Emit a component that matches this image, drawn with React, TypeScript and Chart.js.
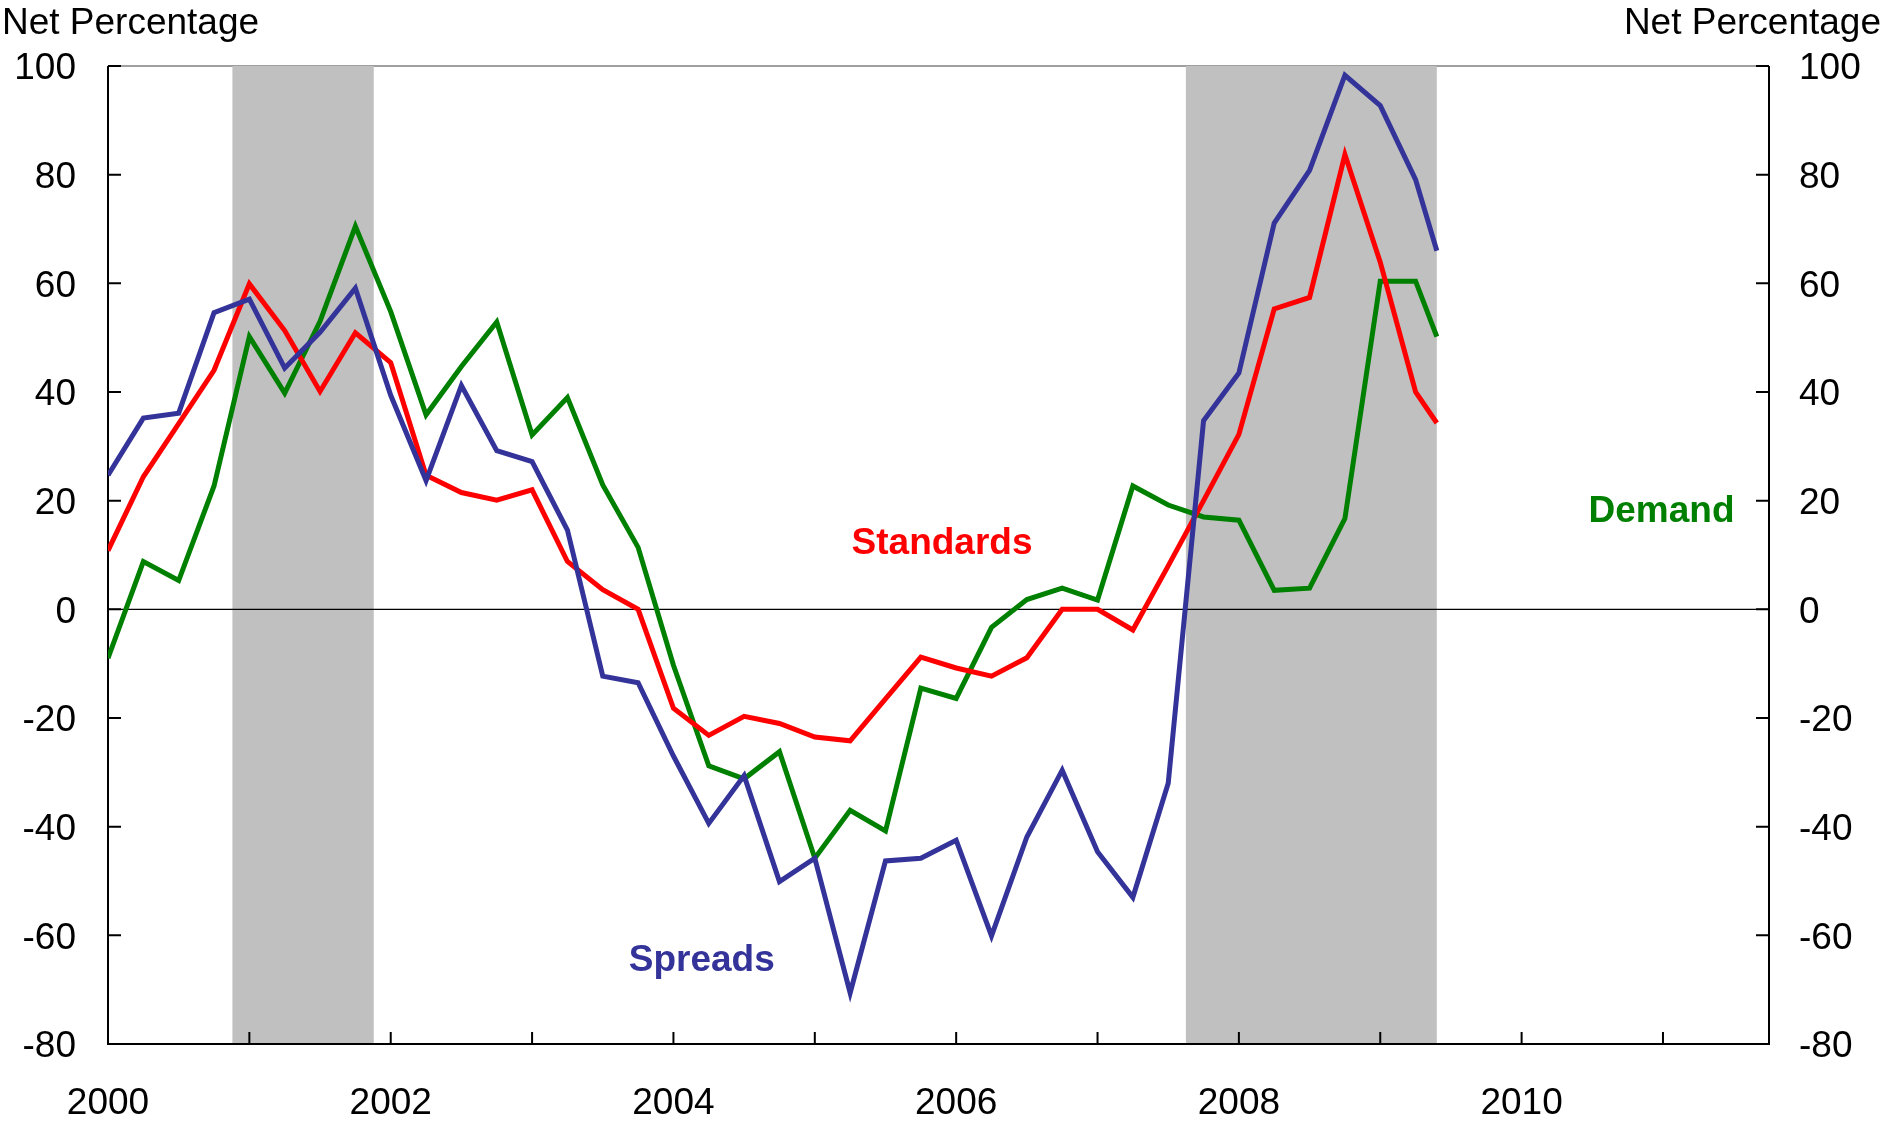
import React, { useEffect, useRef } from "react";
import { Chart, registerables } from "chart.js";

Chart.register(...registerables);

// Quarterly observations (decimal years); the last entry is where the lines stop (end of shaded period)
const quarters = [
  2000.0, 2000.25, 2000.5, 2000.75,
  2001.0, 2001.25, 2001.5, 2001.75,
  2002.0, 2002.25, 2002.5, 2002.75,
  2003.0, 2003.25, 2003.5, 2003.75,
  2004.0, 2004.25, 2004.5, 2004.75,
  2005.0, 2005.25, 2005.5, 2005.75,
  2006.0, 2006.25, 2006.5, 2006.75,
  2007.0, 2007.25, 2007.5, 2007.75,
  2008.0, 2008.25, 2008.5, 2008.75,
  2009.0, 2009.25, 2009.4,
];

const standards = [
  10.8, 24.4, 34.2, 44.0,
  59.9, 51.3, 40.1, 50.9,
  45.4, 24.7, 21.5, 20.1,
  22.0, 8.8, 3.6, 0,
  -18.2, -23.2, -19.7, -21.0,
  -23.5, -24.2, -16.5, -8.8,
  -10.8, -12.3, -8.9, 0,
  0, -3.8, 8, 20,
  32.2, 55.3, 57.4, 83.7,
  63.9, 40.0, 34.3,
];

const demand = [
  -9, 8.8, 5.3, 22.7,
  50.2, 39.8, 53, 70.5,
  54.8, 35.8, 44.7, 52.9,
  32.1, 39, 22.9, 11.4,
  -10.3, -28.8, -31.2, -26.2,
  -45.8, -37.0, -40.8, -14.5,
  -16.4, -3.3, 1.8, 3.9,
  1.7, 22.7, 19.2, 17.0,
  16.4, 3.5, 3.9, 16.7,
  60.4, 60.4, 50.2,
];

const spreads = [
  24.7, 35.2, 36.1, 54.6,
  57.1, 44.4, 51, 59.1,
  39.4, 23.7, 41.2, 29.2,
  27.2, 14.6, -12.3, -13.5,
  -27, -39.4, -30.6, -50.1,
  -45.8, -70.6, -46.3, -45.8,
  -42.5, -60.1, -41.9, -29.6,
  -44.6, -53.0, -32.0, 34.7,
  43.5, 71.1, 80.8, 98.3,
  92.7, 79.1, 66.0,
];

const yTickValues = [100, 80, 60, 40, 20, 0, -20, -40, -60, -80];
const xLabelYears = [2000, 2002, 2004, 2006, 2008, 2010];
const xTickYears = [2001, 2002, 2003, 2004, 2005, 2006, 2007, 2008, 2009, 2010, 2011];
const recessionStarts = [2000.88, 2007.625];
const recessionEnds = [2001.88, 2009.4];

const seriesNames = ["Standards", "Demand", "Spreads"];
const seriesColors = ["#FF0000", "#008000", "#333399"];
const labelX = [2005.9, 2010.99, 2004.2];
const labelY = [10.1, 16.1, -66.6];

const axisTitle = "Net Percentage";
const FONT = "'Liberation Sans', Arial, Helvetica, sans-serif";
const TICK_SIZE = 37;

const decorPlugin = {
  id: "decor",
  beforeDatasetsDraw(chart: any) {
    const { ctx, chartArea } = chart;
    const { left, right, top, bottom } = chartArea;
    const x = chart.scales.x;
    const y = chart.scales.y;
    ctx.save();
    // top border (grey)
    ctx.strokeStyle = "#7f7f7f";
    ctx.lineWidth = 1.3;
    ctx.beginPath();
    ctx.moveTo(left, top);
    ctx.lineTo(right, top);
    ctx.stroke();
    // recession shading
    ctx.fillStyle = "#C0C0C0";
    for (let i = 0; i < recessionStarts.length; i++) {
      const x1 = x.getPixelForValue(recessionStarts[i]);
      const x2 = x.getPixelForValue(recessionEnds[i]);
      ctx.fillRect(x1, top, x2 - x1, bottom - top);
    }
    // zero line
    const y0 = y.getPixelForValue(0);
    ctx.strokeStyle = "#000";
    ctx.lineWidth = 1.3;
    ctx.beginPath();
    ctx.moveTo(left, y0);
    ctx.lineTo(right, y0);
    ctx.stroke();
    // axes
    ctx.lineWidth = 2;
    ctx.beginPath();
    ctx.moveTo(left, top);
    ctx.lineTo(left, bottom);
    ctx.moveTo(right, top);
    ctx.lineTo(right, bottom);
    ctx.moveTo(left - 1, bottom);
    ctx.lineTo(right + 1, bottom);
    ctx.stroke();
    // inward ticks
    ctx.beginPath();
    for (const v of yTickValues) {
      const py = y.getPixelForValue(v);
      ctx.moveTo(left, py);
      ctx.lineTo(left + 13, py);
      ctx.moveTo(right, py);
      ctx.lineTo(right - 13, py);
    }
    for (const v of xTickYears) {
      const px = x.getPixelForValue(v);
      ctx.moveTo(px, bottom);
      ctx.lineTo(px, bottom - 12);
    }
    ctx.stroke();
    // y tick labels (both sides), cap-centred on tick
    ctx.fillStyle = "#000";
    ctx.font = `${TICK_SIZE}px ${FONT}`;
    ctx.textBaseline = "alphabetic";
    for (const v of yTickValues) {
      const py = y.getPixelForValue(v) + TICK_SIZE * 0.716 / 2;
      ctx.textAlign = "right";
      ctx.fillText(String(v), left - 32, py);
      ctx.textAlign = "left";
      ctx.fillText(String(v), right + 30, py);
    }
    ctx.restore();
  },
  afterDatasetsDraw(chart: any) {
    const { ctx } = chart;
    const x = chart.scales.x;
    const y = chart.scales.y;
    ctx.save();
    ctx.font = `bold 37px ${FONT}`;
    ctx.textAlign = "center";
    ctx.textBaseline = "alphabetic";
    for (let i = 0; i < seriesNames.length; i++) {
      ctx.fillStyle = seriesColors[i];
      ctx.fillText(seriesNames[i], x.getPixelForValue(labelX[i]), y.getPixelForValue(labelY[i]));
    }
    ctx.fillStyle = "#000";
    ctx.font = `37px ${FONT}`;
    ctx.textAlign = "left";
    ctx.fillText(axisTitle, 2, 34);
    ctx.textAlign = "right";
    ctx.fillText(axisTitle, chart.width - 2, 34);
    ctx.restore();
  },
};

export default function App() {
  const canvasRef = useRef<HTMLCanvasElement | null>(null);

  useEffect(() => {
    document.body.style.margin = "0";
    const canvas = canvasRef.current;
    if (!canvas) return;
    const seriesValues = [standards, demand, spreads];
    const datasets = [2, 0, 1].map((k) => ({
      label: seriesNames[k],
      data: quarters.map((q, i) => ({ x: q, y: seriesValues[k][i] })),
      borderColor: seriesColors[k],
      backgroundColor: seriesColors[k],
      borderWidth: 5,
      pointRadius: 0,
      tension: 0,
      fill: false,
      borderJoinStyle: "miter" as const,
      yAxisID: "y",
    }));
    const tickFont = { family: FONT, size: TICK_SIZE };
    const hiddenY = {
      type: "linear",
      min: -80,
      max: 100,
      afterBuildTicks: (s: any) => {
        s.ticks = yTickValues.map((v) => ({ value: v }));
      },
      ticks: { display: false },
      grid: { display: false, drawTicks: false },
      border: { display: false },
    };
    const chart = new Chart(canvas, {
      type: "line",
      data: { datasets },
      options: {
        animation: false,
        responsive: false,
        devicePixelRatio: 1,
        layout: { padding: { top: 66, left: 0, right: 0, bottom: 0 } },
        plugins: { legend: { display: false }, tooltip: { enabled: false } },
        scales: {
          x: {
            type: "linear",
            min: 2000,
            max: 2011.75,
            position: "bottom",
            afterBuildTicks: (s: any) => {
              s.ticks = xLabelYears.map((v) => ({ value: v }));
            },
            ticks: {
              autoSkip: false,
              maxRotation: 0,
              padding: 38,
              color: "#000",
              font: tickFont,
              callback: (v: any) => String(v),
            },
            grid: { display: false, drawTicks: false },
            border: { display: false },
            afterFit: (s: any) => {
              s.height = 80;
            },
          },
          y: {
            ...hiddenY,
            position: "left",
            afterFit: (s: any) => {
              s.width = 108;
            },
          },
          y2: {
            ...hiddenY,
            position: "right",
            afterFit: (s: any) => {
              s.width = 114;
            },
          },
        },
      } as any,
      plugins: [decorPlugin],
    });
    return () => chart.destroy();
  }, []);

  return (
    <div style={{ width: 1883, height: 1124, background: "#fff" }}>
      <canvas ref={canvasRef} width={1883} height={1124} style={{ display: "block" }} />
    </div>
  );
}
